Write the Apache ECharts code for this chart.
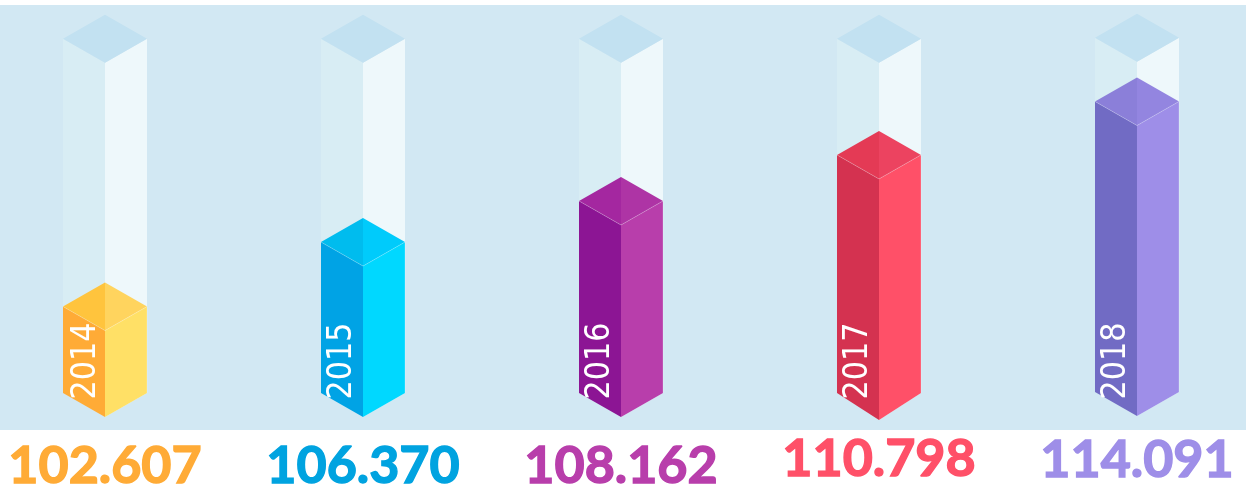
<!DOCTYPE html>
<html>
<head>
<meta charset="utf-8">
<title>chart</title>
<style>
html, body { margin: 0; padding: 0; background: #fff; }
#main { width: 1246px; height: 484px; }
</style>
<script src="https://cdn.jsdelivr.net/npm/echarts@6/dist/echarts.min.js"></script>
</head>
<body>
<div id="main"></div>
<script>
var years = ['2014', '2015', '2016', '2017', '2018'];
var valueLabels = ['102.607', '106.370', '108.162', '110.798', '114.091'];
// how far each bar fills its tube, in percent
var fillLevels = [24.4, 42.6, 54.2, 67.2, 82.0];
var tubeLevels = [100, 100, 100, 100, 100];

var faceColors = [
    { left: '#ffab36', right: '#ffe066', topLeft: '#ffc43d', topRight: '#ffd45e', text: '#ffab36' },
    { left: '#00a3e5', right: '#00d8ff', topLeft: '#00bcee', topRight: '#00cbfb', text: '#00a3e0' },
    { left: '#8c1594', right: '#b83eab', topLeft: '#a427a0', topRight: '#ae34a5', text: '#b83eab' },
    { left: '#d43250', right: '#ff5068', topLeft: '#e43a55', topRight: '#ec4360', text: '#ff5068' },
    { left: '#716bc4', right: '#9e8ee8', topLeft: '#8b7fd9', topRight: '#9385e0', text: '#9e8ee8' }
];
var tubeColors = { left: '#d8edf4', right: '#eef8fb', topLeft: '#c2e1f1', topRight: '#c2e1f1' };

// small hand placement differences between the columns
var barShift = [0, 0, 0, 0, -1];
var bottomDrop = [24, 24, 24, 27, 24];
var yearShift = [-19, -21, -21, -21, -21];
var labelY = [466, 466, 466, 459.5, 460];

var halfW = 42, halfH = 24;

function face(points, color) {
    return { type: 'polygon', shape: { points: points }, style: { fill: color } };
}

function prism(api, colors, i, edge) {
    var base = api.coord([api.value(0), 0]);
    var top = api.coord([api.value(0), api.value(1)]);
    var cx = base[0], by = base[1] + barShift[i], ty = top[1] + barShift[i];
    var drop = bottomDrop[i];
    var list = [
        face([[cx - halfW, by], [cx, by + drop], [cx, ty + halfH], [cx - halfW, ty]], colors.left),
        face([[cx + halfW, by], [cx, by + drop], [cx, ty + halfH], [cx + halfW, ty]], colors.right),
        face([[cx - halfW, ty], [cx, ty - halfH], [cx, ty + halfH]], colors.topLeft),
        face([[cx + halfW, ty], [cx, ty - halfH], [cx, ty + halfH]], colors.topRight)
    ];
    if (edge) {
        list.push({
            type: 'polyline',
            shape: { points: [[cx - halfW, ty], [cx, ty + halfH], [cx + halfW, ty], [cx + halfW, by]] },
            style: { fill: 'none', stroke: edge, lineWidth: 1 }
        });
    }
    return list;
}

var dom = document.getElementById('main');
var myChart = echarts.init(dom);

var option = {
    animation: false,
    grid: { left: 0, right: 0, top: 38.7, height: 354.3 },
    graphic: [{
        type: 'rect',
        z: -1,
        shape: { x: 0, y: 5, width: 1246, height: 425 },
        style: { fill: '#d2e8f3' }
    }],
    xAxis: { type: 'value', min: -0.407, max: 4.4225, show: false },
    yAxis: { type: 'value', min: 0, max: 100, show: false },
    series: [{
        name: 'tube',
        type: 'custom',
        z: 1,
        data: tubeLevels.map(function (v, i) { return [i, v]; }),
        renderItem: function (params, api) {
            return { type: 'group', children: prism(api, tubeColors, params.dataIndex) };
        }
    }, {
        name: 'fill',
        type: 'custom',
        z: 2,
        data: fillLevels.map(function (v, i) { return [i, v]; }),
        renderItem: function (params, api) {
            var i = params.dataIndex;
            var children = prism(api, faceColors[i], i, 'rgba(255,255,255,0.22)');
            var base = api.coord([api.value(0), 0]);
            children.push({
                type: 'text',
                x: base[0] + yearShift[i],
                y: 361,
                rotation: Math.PI / 2,
                scaleX: 0.89,
                style: {
                    text: years[i],
                    fill: '#fff',
                    font: '34px "DejaVu Sans"',
                    align: 'center',
                    verticalAlign: 'middle'
                }
            });
            children.push({
                type: 'text',
                x: base[0],
                y: labelY[i],
                style: {
                    text: valueLabels[i],
                    fill: faceColors[i].text,
                    stroke: faceColors[i].text,
                    lineWidth: 1.4,
                    font: 'bold 52px Lato',
                    align: 'center',
                    verticalAlign: 'middle'
                }
            });
            return { type: 'group', children: children };
        }
    }]
};

myChart.setOption(option, true);

window.addEventListener('resize', function () {
    myChart.resize();
});
</script>
</body>
</html>
